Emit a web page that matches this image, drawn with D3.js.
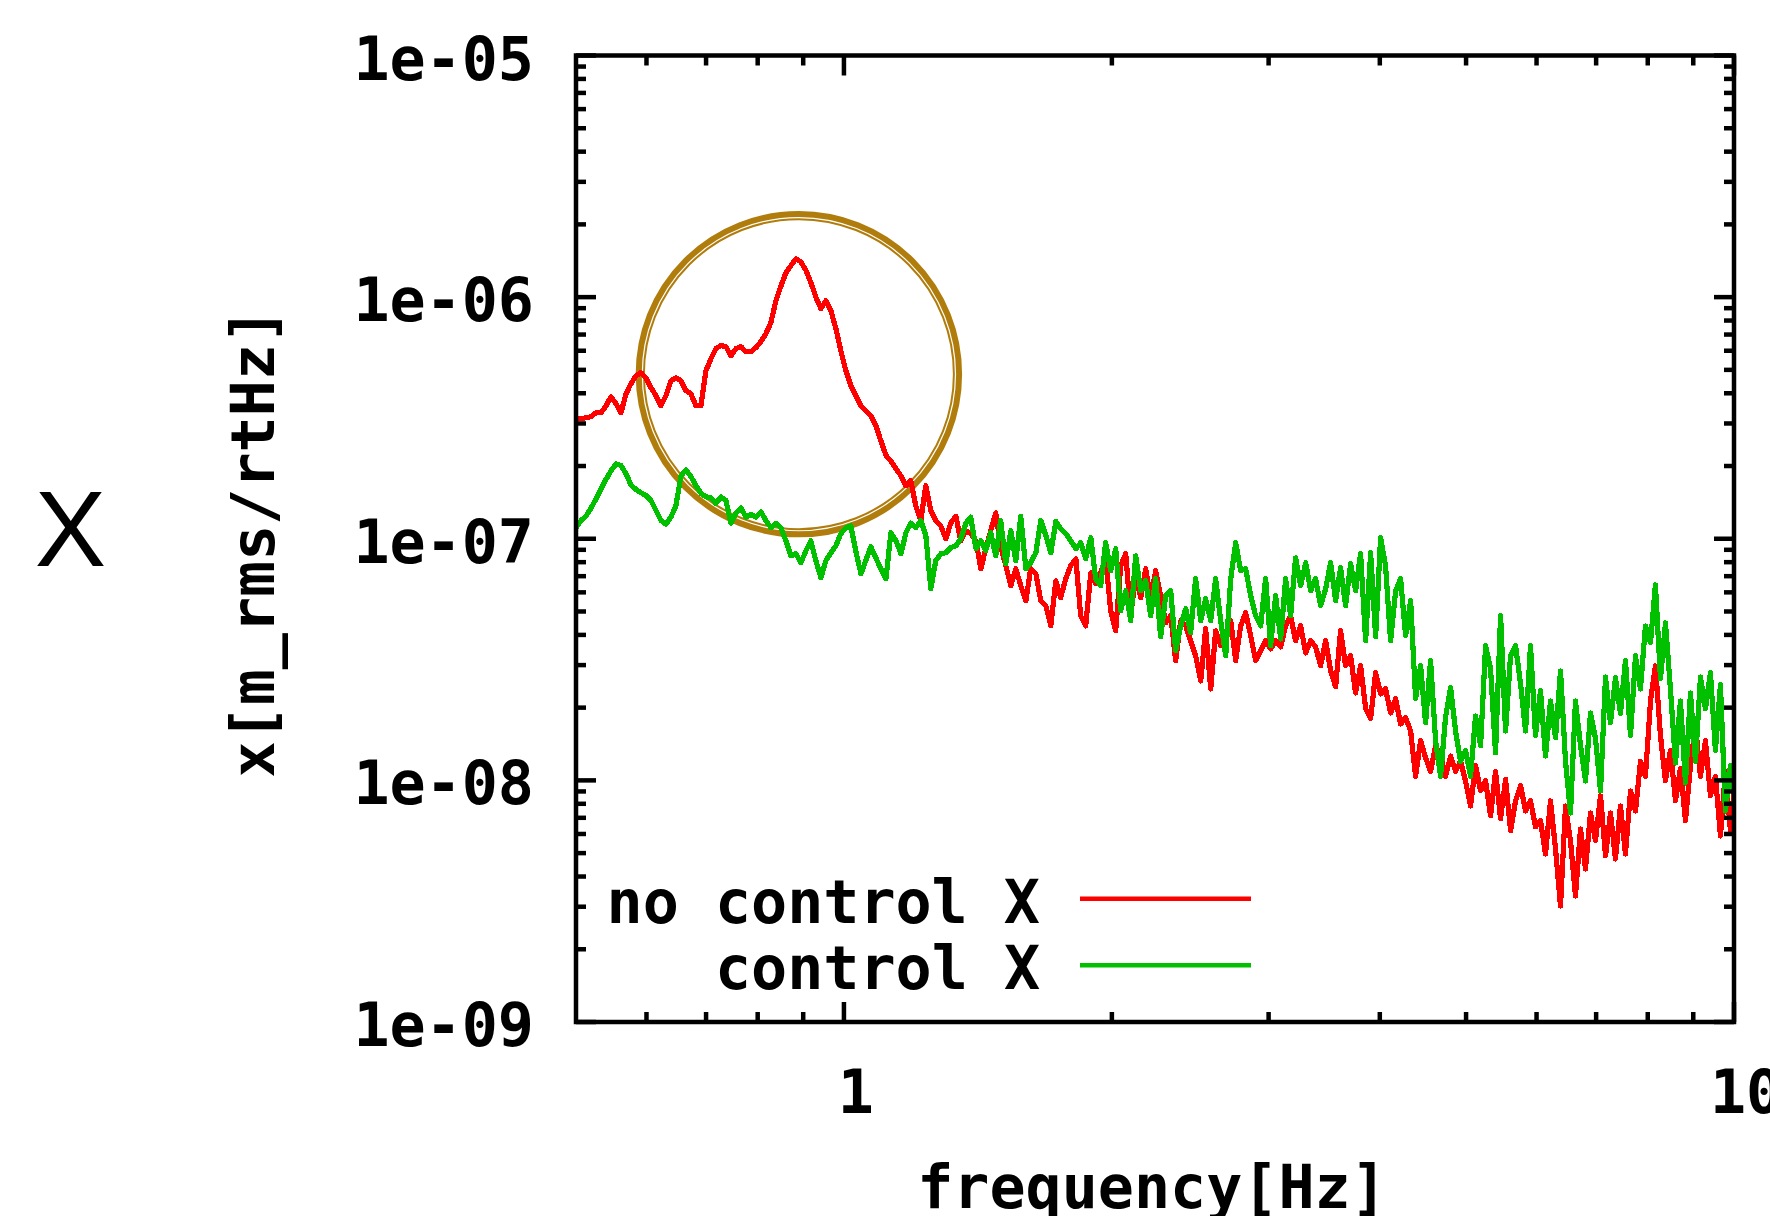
<!DOCTYPE html>
<html><head><meta charset="utf-8">
<script src="https://cdn.jsdelivr.net/npm/d3@7"></script>
<style>html,body{margin:0;padding:0;background:#fff;} svg{display:block}</style>
</head><body>
<script>
// ---- data (frequency in Hz, amplitude in m_rms/rtHz) ----
const frequency = [
0.5,0.5065,0.5131,0.5198,0.5265,0.5334,0.5403,0.5474,0.5545,0.5617,0.569,0.5764,0.5839,0.5915,0.5992,0.607,0.6149,0.6229,0.631,0.6392,0.6475,0.656,0.6645,0.6731,0.6819,0.6908,0.6998,0.7089,0.7181,0.7274,0.7369,0.7465,0.7562,0.7661,0.776,0.7861,0.7963,0.8067,0.8172,0.8278,0.8386,0.8495,0.8606,0.8718,0.8831,0.8946,0.9063,0.918,0.93,0.9421,0.9544,0.9668,0.9794,0.9921,
1.005,1.018,1.031,1.045,1.058,1.072,1.086,1.1,1.115,1.129,1.144,1.159,1.174,1.189,1.204,1.22,1.236,1.252,1.268,1.285,1.302,1.318,1.336,1.353,1.371,1.388,1.407,1.425,1.443,1.462,1.481,1.5,1.52,1.54,1.56,1.58,1.601,1.621,1.643,1.664,1.686,1.708,1.73,1.752,1.775,1.798,1.822,1.845,1.869,1.894,1.918,1.943,1.968,1.994,
2.02,2.046,2.073,2.1,2.127,2.155,2.183,2.211,2.24,2.269,2.299,2.329,2.359,2.39,2.421,2.452,2.484,2.517,2.549,2.583,2.616,2.65,2.685,2.72,2.755,2.791,2.827,2.864,2.901,2.939,2.977,3.016,3.055,3.095,3.135,3.176,3.217,3.259,3.302,3.345,3.388,3.432,3.477,3.522,3.568,3.614,3.661,3.709,3.757,3.806,3.856,3.906,3.957,4.008,
4.06,4.113,4.167,4.221,4.276,4.332,4.388,4.445,4.503,4.561,4.621,4.681,4.742,4.804,4.866,4.929,4.993,5.058,5.124,5.191,5.259,5.327,5.396,5.467,5.538,5.61,5.683,5.757,5.832,5.907,5.984,6.062,6.141,6.221,6.302,6.384,6.467,6.551,6.636,6.723,6.81,6.899,6.989,7.08,7.172,7.265,7.359,7.455,7.552,7.651,7.75,7.851,7.953,8.057,
8.161,8.268,8.375,8.484,8.595,8.706,8.82,8.934,9.051,9.169,9.288,9.409,9.531,9.655,9.781,9.908,10
];
const noControlX = [
3.14e-7,3.14e-7,3.17e-7,3.20e-7,3.32e-7,3.32e-7,3.55e-7,3.87e-7,3.62e-7,3.32e-7,
3.98e-7,4.38e-7,4.73e-7,4.87e-7,4.64e-7,4.22e-7,3.91e-7,3.55e-7,3.91e-7,4.51e-7,
4.64e-7,4.51e-7,4.10e-7,3.98e-7,3.55e-7,3.55e-7,4.96e-7,5.56e-7,6.12e-7,6.30e-7,
6.24e-7,5.72e-7,6.12e-7,6.24e-7,5.95e-7,5.95e-7,6.18e-7,6.54e-7,7.06e-7,7.84e-7,
9.67e-7,1.11e-6,1.26e-6,1.35e-6,1.44e-6,1.40e-6,1.29e-6,1.15e-6,1.00e-6,8.96e-7,
9.67e-7,8.79e-7,7.41e-7,6.00e-7,4.96e-7,4.30e-7,3.91e-7,3.55e-7,3.39e-7,3.23e-7,
2.94e-7,2.55e-7,2.21e-7,2.10e-7,1.95e-7,1.82e-7,1.66e-7,1.74e-7,1.37e-7,1.19e-7,
1.66e-7,1.31e-7,1.19e-7,1.13e-7,1.00e-7,1.16e-7,1.24e-7,9.81e-8,1.08e-7,1.05e-7,
9.81e-8,7.51e-8,9.09e-8,1.08e-7,1.28e-7,9.35e-8,7.73e-8,6.39e-8,7.51e-8,6.39e-8,
5.54e-8,7.51e-8,7.16e-8,5.54e-8,5.28e-8,4.36e-8,6.70e-8,5.70e-8,6.83e-8,7.73e-8,
8.26e-8,4.80e-8,4.36e-8,7.23e-8,6.51e-8,7.23e-8,8.34e-8,5.03e-8,4.16e-8,7.73e-8,
8.67e-8,4.80e-8,7.03e-8,5.70e-8,7.51e-8,5.64e-8,7.37e-8,5.81e-8,4.49e-8,4.80e-8,
3.13e-8,4.58e-8,4.36e-8,3.78e-8,3.28e-8,2.58e-8,4.24e-8,2.39e-8,4.16e-8,3.61e-8,
3.78e-8,4.58e-8,3.13e-8,4.36e-8,4.94e-8,3.97e-8,3.13e-8,3.44e-8,3.78e-8,3.50e-8,
3.78e-8,3.57e-8,4.36e-8,4.80e-8,3.78e-8,4.36e-8,3.37e-8,3.78e-8,3.57e-8,2.98e-8,
3.78e-8,2.84e-8,2.44e-8,4.16e-8,2.98e-8,3.28e-8,2.30e-8,2.98e-8,1.98e-8,1.80e-8,
2.79e-8,2.28e-8,2.39e-8,1.90e-8,2.18e-8,1.71e-8,1.82e-8,1.60e-8,1.04e-8,1.46e-8,
1.24e-8,1.09e-8,1.39e-8,1.26e-8,1.04e-8,1.26e-8,1.09e-8,1.20e-8,9.95e-9,7.84e-9,
1.15e-8,9.05e-9,9.95e-9,7.13e-9,1.09e-8,6.93e-9,1.01e-8,6.18e-9,8.23e-9,9.49e-9,
7.47e-9,8.23e-9,6.42e-9,6.80e-9,4.96e-9,8.23e-9,5.20e-9,3.02e-9,7.84e-9,5.62e-9,
3.32e-9,6.30e-9,4.30e-9,7.33e-9,5.62e-9,8.63e-9,4.87e-9,7.33e-9,4.73e-9,7.84e-9,
4.96e-9,9.05e-9,7.47e-9,1.20e-8,1.04e-8,2.13e-8,2.98e-8,1.53e-8,9.95e-9,1.33e-8,
8.23e-9,1.12e-8,6.80e-9,1.15e-8,1.68e-8,1.04e-8,1.46e-8,8.63e-9,1.04e-8,5.89e-9,
1.09e-8,6.18e-9,9.05e-9
];
const controlX = [
1.11e-7,1.19e-7,1.24e-7,1.34e-7,1.46e-7,1.61e-7,1.76e-7,1.91e-7,2.04e-7,2.01e-7,
1.86e-7,1.67e-7,1.60e-7,1.55e-7,1.51e-7,1.44e-7,1.31e-7,1.19e-7,1.15e-7,1.23e-7,
1.37e-7,1.82e-7,1.93e-7,1.81e-7,1.66e-7,1.54e-7,1.49e-7,1.48e-7,1.40e-7,1.49e-7,
1.44e-7,1.16e-7,1.28e-7,1.34e-7,1.23e-7,1.26e-7,1.23e-7,1.29e-7,1.19e-7,1.11e-7,
1.16e-7,1.11e-7,9.81e-8,8.50e-8,8.67e-8,7.95e-8,8.92e-8,9.81e-8,8.11e-8,6.90e-8,
8.11e-8,8.75e-8,9.35e-8,1.05e-7,1.11e-7,1.13e-7,8.92e-8,7.16e-8,8.11e-8,9.27e-8,
8.34e-8,7.51e-8,6.83e-8,1.06e-7,9.81e-8,8.67e-8,1.06e-7,1.16e-7,1.11e-7,1.19e-7,
1.03e-7,6.21e-8,8.11e-8,8.67e-8,8.75e-8,9.18e-8,9.35e-8,1.00e-7,1.16e-7,1.23e-7,
9.09e-8,9.81e-8,8.92e-8,1.06e-7,8.50e-8,1.19e-7,7.88e-8,1.08e-7,8.11e-8,1.24e-7,
7.51e-8,7.95e-8,8.75e-8,1.19e-7,1.03e-7,8.75e-8,1.18e-7,1.10e-7,1.05e-7,9.81e-8,
9.09e-8,9.63e-8,8.26e-8,1.01e-7,6.83e-8,6.39e-8,9.63e-8,7.37e-8,9.09e-8,5.03e-8,
6.09e-8,4.58e-8,8.50e-8,6.09e-8,6.70e-8,4.80e-8,6.83e-8,3.93e-8,5.81e-8,6.09e-8,
3.44e-8,4.36e-8,5.13e-8,4.08e-8,6.83e-8,4.58e-8,5.64e-8,4.58e-8,6.83e-8,4.58e-8,
3.28e-8,6.83e-8,9.63e-8,7.37e-8,7.51e-8,5.81e-8,4.80e-8,4.36e-8,6.83e-8,3.61e-8,
5.81e-8,3.85e-8,6.83e-8,4.80e-8,8.34e-8,6.39e-8,7.95e-8,6.09e-8,6.83e-8,5.28e-8,
6.21e-8,7.95e-8,5.54e-8,7.59e-8,5.28e-8,7.88e-8,6.09e-8,8.67e-8,3.78e-8,8.75e-8,
3.93e-8,1.01e-7,7.73e-8,3.78e-8,6.09e-8,6.83e-8,3.97e-8,5.54e-8,2.18e-8,2.98e-8,
1.73e-8,3.13e-8,1.46e-8,1.04e-8,1.83e-8,2.42e-8,1.60e-8,1.20e-8,1.33e-8,1.04e-8,
1.85e-8,1.39e-8,3.61e-8,2.90e-8,1.30e-8,4.80e-8,1.60e-8,3.28e-8,3.61e-8,2.51e-8,
1.60e-8,3.61e-8,1.53e-8,2.35e-8,1.26e-8,2.13e-8,1.50e-8,2.84e-8,1.20e-8,7.33e-9,
2.13e-8,1.39e-8,9.95e-9,1.90e-8,1.49e-8,9.05e-9,2.68e-8,1.73e-8,2.66e-8,1.89e-8,
3.13e-8,1.53e-8,3.28e-8,2.39e-8,4.36e-8,3.71e-8,6.45e-8,2.63e-8,4.49e-8,2.39e-8,
1.18e-8,2.13e-8,9.76e-9,2.30e-8,1.20e-8,2.68e-8,1.98e-8,2.79e-8,1.33e-8,2.49e-8,
7.47e-9,1.15e-8,9.05e-9
];
const seriesNames = ["no control X", "control X"];
const seriesColors = ["#ff0000", "#00c000"];
const xDomain = [0.5, 10];
const yDomain = [1e-9, 1e-5];
const xTickLabels = ["1", "10"];
const yTickLabels = ["1e-09", "1e-08", "1e-07", "1e-06", "1e-05"];
const xAxisTitle = "frequency[Hz]";
const yAxisTitle = "x[m_rms/rtHz]";
const panelTitle = "X";
const highlight = {f: 0.89, v: 4.8e-7};

// ---- layout ----
const W = 1770, H = 1216;
const L = 576, R = 1734, T = 55.5, B = 1022;
const FONT = "'DejaVu Sans Mono', monospace";
const FS = 60;

const x = d3.scaleLog().domain(xDomain).range([L, R]);
const y = d3.scaleLog().domain(yDomain).range([B, T]);

const svg = d3.select("body").append("svg").attr("width", W).attr("height", H)
  .style("background", "#fff");

svg.append("defs").append("clipPath").attr("id", "plotclip")
  .append("rect").attr("x", L).attr("y", T).attr("width", R - L).attr("height", B - T);

// highlight circle (annotation)
const cx = x(highlight.f), cy = y(highlight.v);
const ring = svg.append("g");
ring.append("circle").attr("cx", cx).attr("cy", cy).attr("r", 160.2)
  .attr("fill", "none").attr("stroke", "#b07c0c").attr("stroke-width", 6);
ring.append("circle").attr("cx", cx).attr("cy", cy).attr("r", 155)
  .attr("fill", "none").attr("stroke", "#b07c0c").attr("stroke-width", 2);

// data lines
const series = [noControlX, controlX];
const line = d3.line().x(d => x(d[0])).y(d => y(d[1]));
const gl = svg.append("g").attr("clip-path", "url(#plotclip)");
series.forEach((vals, k) => {
  const pts = frequency.map((f, i) => [f, vals[i]]);
  gl.append("path").attr("d", line(pts)).attr("fill", "none")
    .attr("stroke", seriesColors[k]).attr("stroke-width", 5.2)
    .attr("stroke-linejoin", "round").attr("stroke-linecap", "square")
    .attr("shape-rendering", "crispEdges");
});

// ticks (mirrored on all sides, pointing inward)
const xt = x.ticks().filter(v => v > xDomain[0] && v <= xDomain[1]);
const yt = y.ticks();
const isMajor = v => Math.abs(Math.log10(v) - Math.round(Math.log10(v))) < 1e-9;
const tg = svg.append("g").attr("stroke", "#000").attr("stroke-width", 4.5);
xt.forEach(v => {
  const len = isMajor(v) ? 20 : 10;
  tg.append("line").attr("x1", x(v)).attr("x2", x(v)).attr("y1", B).attr("y2", B - len);
  tg.append("line").attr("x1", x(v)).attr("x2", x(v)).attr("y1", T).attr("y2", T + len);
});
yt.forEach(v => {
  const len = isMajor(v) ? 20 : 10;
  tg.append("line").attr("y1", y(v)).attr("y2", y(v)).attr("x1", L).attr("x2", L + len);
  tg.append("line").attr("y1", y(v)).attr("y2", y(v)).attr("x1", R).attr("x2", R - len);
});

// frame
svg.append("rect").attr("x", L).attr("y", T).attr("width", R - L).attr("height", B - T)
  .attr("fill", "none").attr("stroke", "#000").attr("stroke-width", 4.5);

// tick labels
const yMajor = yt.filter(isMajor);
svg.append("g").selectAll("text").data(yMajor).join("text")
  .attr("x", L - 42).attr("y", d => y(d) + 24)
  .attr("text-anchor", "end").attr("font-family", FONT).attr("font-weight", "bold")
  .attr("font-size", FS).attr("fill", "#000")
  .text((d, i) => yTickLabels[i]);
const xMajor = xt.filter(isMajor);
svg.append("g").selectAll("text").data(xMajor).join("text")
  .attr("x", d => x(d) + 12).attr("y", 1113)
  .attr("text-anchor", "middle").attr("font-family", FONT).attr("font-weight", "bold")
  .attr("font-size", FS).attr("fill", "#000")
  .text((d, i) => xTickLabels[i]);

// axis titles
svg.append("text").attr("x", (L + R) / 2 - 3).attr("y", 1208)
  .attr("text-anchor", "middle").attr("font-family", FONT).attr("font-weight", "bold")
  .attr("font-size", FS).text(xAxisTitle);
svg.append("text").attr("transform", `translate(274,${(T + B) / 2 + 4}) rotate(-90)`)
  .attr("text-anchor", "middle").attr("font-family", FONT).attr("font-weight", "bold")
  .attr("font-size", FS).text(yAxisTitle);

// panel title
svg.append("text").attr("x", 70.5).attr("y", 566).attr("text-anchor", "middle")
  .attr("font-family", "'Liberation Sans', Arial, sans-serif").attr("font-size", 107)
  .attr("fill", "#000").text(panelTitle);

// legend
const lg = svg.append("g");
seriesNames.forEach((name, k) => {
  const by = 922.7 + k * 66.6;
  lg.append("text").attr("x", 1040).attr("y", by).attr("text-anchor", "end")
    .attr("font-family", FONT).attr("font-weight", "bold").attr("font-size", FS).text(name);
  lg.append("line").attr("x1", 1080).attr("x2", 1251).attr("y1", by - 24).attr("y2", by - 24)
    .attr("stroke", seriesColors[k]).attr("stroke-width", 4.5);
});
</script>
</body></html>
